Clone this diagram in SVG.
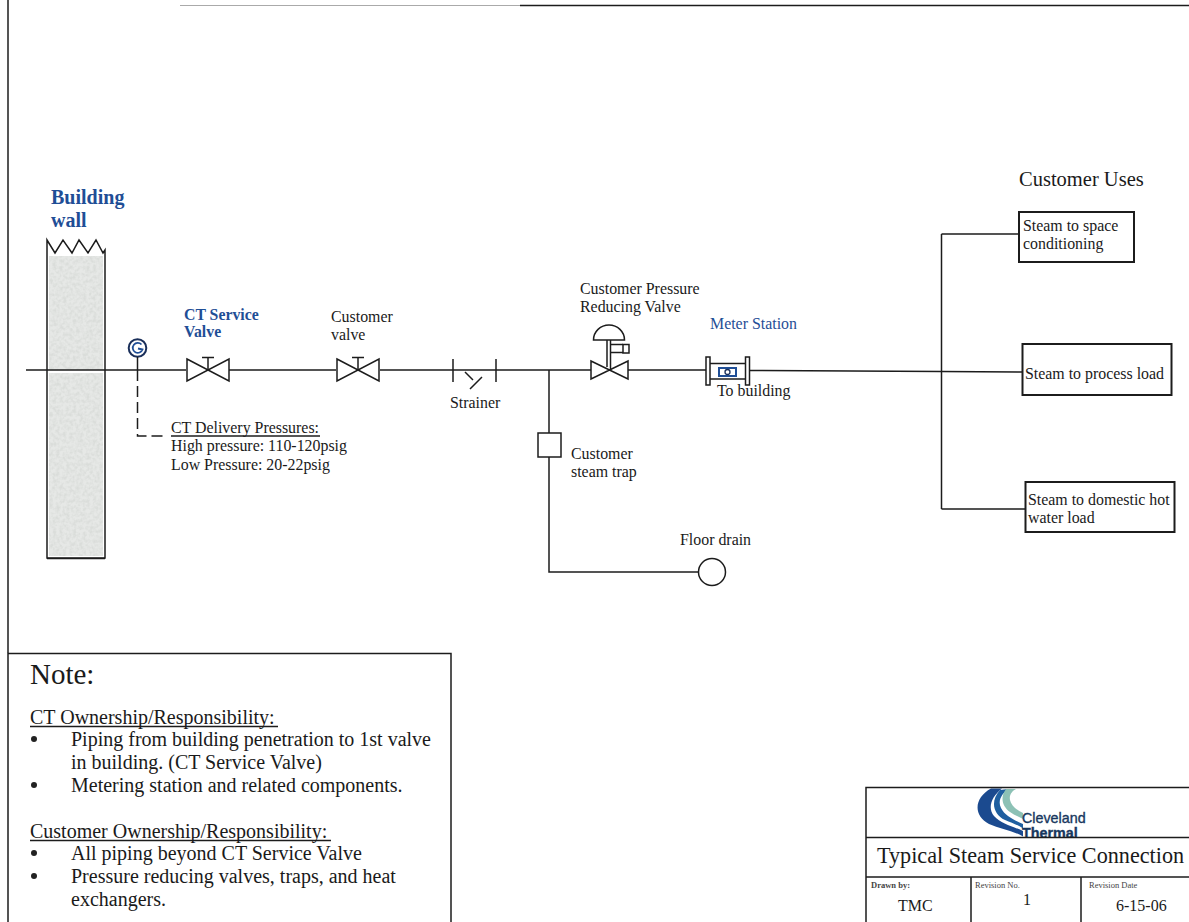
<svg xmlns="http://www.w3.org/2000/svg" width="1189" height="922" viewBox="0 0 1189 922">
<style>
text{font-family:"Liberation Serif","Times New Roman",serif;fill:#1a1a1a;font-size:15.900px}
.ln{fill:none;stroke:#1c1c1c;stroke-width:1.5}
.sym{fill:#fff;stroke:#1c1c1c;stroke-width:1.5}
.blue{fill:#1f4e96;font-weight:bold}
.note{font-size:20px}
.small{font-size:8.500px;fill:#444}
.logo{font-family:"Liberation Sans",Arial,sans-serif;font-size:14.300px;fill:#17375e;stroke:#17375e;stroke-width:.35}
</style>
<defs>
<filter id="speckle" x="0" y="0" width="100%" height="100%">
<feTurbulence type="fractalNoise" baseFrequency="0.3" numOctaves="2" seed="4"/>
<feColorMatrix type="matrix" values="0 0 0 0 .7  0 0 0 0 .72  0 0 0 0 .7  2.500 0 0 0 -.9"/>
<feComposite in2="SourceAlpha" operator="in"/>
</filter>
</defs>
<rect width="1189" height="922" fill="#fff"/>
<g id="frame">
<path d="M8 0V653" class="ln"/>
<path d="M180 5.500H520" fill="none" stroke="#aaa" stroke-width="1"/>
<path d="M520 5.500H1189" class="ln"/>
</g>
<g id="building-wall">
<rect x="49" y="256" width="54" height="300" fill="#e6e8e6"/>
<rect x="49" y="256" width="54" height="300" fill="#000" filter="url(#speckle)"/>
<path d="M47 558V240L55 253L63 240L72 253L79 240L88 253L96 240L103 253L105 250V558Z" class="ln"/>
<path d="M47 558.500H105" class="ln"/>
<text x="51" y="204" class="blue" style="font-size:20px">Building</text>
<text x="51" y="227" class="blue" style="font-size:20px">wall</text>
</g>
<g id="connectors">
<path d="M49 371.500H103" fill="none" stroke="#fff" stroke-width="3"/>
<path d="M26 370H186M229 370H336M380 370H591M628 370H706M749 370.500L941 371.500L1022 372" class="ln"/>
<path d="M549 370V433M549 457V572H698" class="ln"/>
<path d="M941.500 234V509M941.500 234H1019M941.500 509H1025" class="ln"/>
<path d="M137.500 370V436H163" fill="none" stroke="#1c1c1c" stroke-width="1.500" stroke-dasharray="11 5"/>
</g>
<g id="pressure-gauge">
<circle cx="137.500" cy="348" r="8.800" fill="#fff" stroke="#1a2f5a" stroke-width="2"/>
<path d="M141.500 344.500A5 5 0 1 0 142.500 349.500L138 348.500" fill="none" stroke="#1f4e96" stroke-width="1.800"/>
<path d="M137.500 357V370" class="ln"/>
</g>
<g id="ct-service-valve">
<path d="M187 359L229 381V359L187 381Z" class="sym"/>
<path d="M208 370V358M202 357.500H214" class="ln"/>
<text x="184" y="320" class="blue" style="font-size:15.800px">CT Service</text>
<text x="184" y="337" class="blue" style="font-size:15.800px">Valve</text>
</g>
<g id="customer-valve">
<path d="M337 359L379 381V359L337 381Z" class="sym"/>
<path d="M358 370V358M352 357.500H364" class="ln"/>
<text x="331" y="322">Customer</text>
<text x="331" y="340">valve</text>
</g>
<g id="strainer">
<path d="M453 359V382M496 359V382M465 372L473 380M482 377L470 389" class="ln"/>
<text x="450" y="408">Strainer</text>
</g>
<g id="steam-trap">
<rect x="538" y="433" width="23" height="24" class="sym"/>
<text x="571" y="459">Customer</text>
<text x="571" y="477">steam trap</text>
</g>
<g id="floor-drain">
<circle cx="712" cy="572" r="13.500" class="sym"/>
<text x="680" y="545">Floor drain</text>
</g>
<g id="pressure-reducing-valve">
<path d="M591 361L628 379V361L591 379Z" class="sym"/>
<path d="M593.500 340A15.500 15 0 0 1 624.500 340Z" class="sym"/>
<path d="M607 340V367M610.500 340V370M610.500 344.500H623M610.500 352.500H623" class="ln"/>
<rect x="623" y="344.500" width="6" height="8.500" class="sym"/>
<text x="580" y="294">Customer Pressure</text>
<text x="580" y="312">Reducing Valve</text>
</g>
<g id="meter-station">
<rect x="706" y="357" width="4" height="28" class="sym"/>
<rect x="745.500" y="357" width="4" height="28" class="sym"/>
<path d="M710 363.500H745.500M710 379H745.500" class="ln"/>
<rect x="719" y="368" width="17" height="8" fill="#fff" stroke="#1f4e96" stroke-width="2"/>
<circle cx="727.500" cy="372" r="2.500" fill="none" stroke="#1a2f5a" stroke-width="1.300"/>
<text x="710" y="329" style="fill:#1f4e96">Meter Station</text>
<text x="717" y="396">To building</text>
</g>
<g id="delivery-pressures">
<text x="171" y="433">CT Delivery Pressures:</text>
<path d="M171 436H320" class="ln" stroke-width="1"/>
<text x="171" y="451">High pressure: 110-120psig</text>
<text x="171" y="470">Low Pressure: 20-22psig</text>
</g>
<g id="customer-uses">
<text x="1019" y="186" style="font-size:20.500px">Customer Uses</text>
</g>
<g id="use-space">
<rect x="1019" y="212" width="115" height="50" fill="#fff" stroke="#1c1c1c" stroke-width="2"/>
<text x="1023" y="231">Steam to space</text>
<text x="1023" y="249">conditioning</text>
</g>
<g id="use-process">
<rect x="1022.500" y="344" width="149" height="51" fill="#fff" stroke="#1c1c1c" stroke-width="2"/>
<text x="1025" y="379">Steam to process load</text>
</g>
<g id="use-hot-water">
<rect x="1025.500" y="482" width="149" height="50" fill="#fff" stroke="#1c1c1c" stroke-width="2"/>
<text x="1028" y="505">Steam to domestic hot</text>
<text x="1028" y="523">water load</text>
</g>
<g id="note-box">
<path d="M8 922V653.500H451V922" class="ln"/>
<text x="30" y="684" style="font-size:29px">Note:</text>
<text x="30" y="724" class="note">CT Ownership/Responsibility:</text>
<path d="M30 726.500H278" class="ln" stroke-width="1"/>
<circle cx="34" cy="739" r="3" fill="#222"/>
<text x="71" y="746" class="note">Piping from building penetration to 1st valve</text>
<text x="71" y="769" class="note">in building. (CT Service Valve)</text>
<circle cx="34" cy="785" r="3" fill="#222"/>
<text x="71" y="792" class="note">Metering station and related components.</text>
<text x="30" y="838" class="note">Customer Ownership/Responsibility:</text>
<path d="M30 840.500H331" class="ln" stroke-width="1"/>
<circle cx="34" cy="853" r="3" fill="#222"/>
<text x="71" y="860" class="note">All piping beyond CT Service Valve</text>
<circle cx="34" cy="876" r="3" fill="#222"/>
<text x="71" y="883" class="note">Pressure reducing valves, traps, and heat</text>
<text x="71" y="906" class="note">exchangers.</text>
</g>
<g id="title-block">
<path d="M991 788.500C975 797 972 815 989 824C1000 829 1012 830 1023 836.500V831C1012 826 1001 824 994 816C987 808 992 796 1002 788.500Z" fill="#1b4a8f"/>
<path d="M1000 790C990 801 993 814 1005 820C1012 823 1018 825 1023 828.500V824C1014 820 1005 816 1001 808C997 800 1003 793 1008 789Z" fill="#1f5fa0"/>
<path d="M1006 789C1000 797 1002 806 1010 812C1014 815 1019 817 1023 819V813C1016 810 1011 805 1010 800C1009 795 1012 791 1016 789Z" fill="#8cc1b5"/>
<text x="1022" y="823" class="logo">Cleveland</text>
<text x="1022" y="838" class="logo" style="font-weight:bold">Thermal</text>
<rect x="1010" y="838" width="80" height="6" fill="#fff"/>
<path d="M1189 787.500H866V922M866 837.500H1189M866 877H1189M971 877V922M1081 877V922" class="ln"/>
<text x="877" y="863" style="font-size:22.200px">Typical Steam Service Connection</text>
<text x="871" y="888" class="small" style="font-weight:bold">Drawn by:</text>
<text x="975" y="888" class="small">Revision No.</text>
<text x="1089" y="888" class="small">Revision Date</text>
<text x="898" y="911" style="font-size:16px">TMC</text>
<text x="1023" y="905" style="font-size:16px">1</text>
<text x="1116" y="911" style="font-size:16px">6-15-06</text>
</g>
</svg>
